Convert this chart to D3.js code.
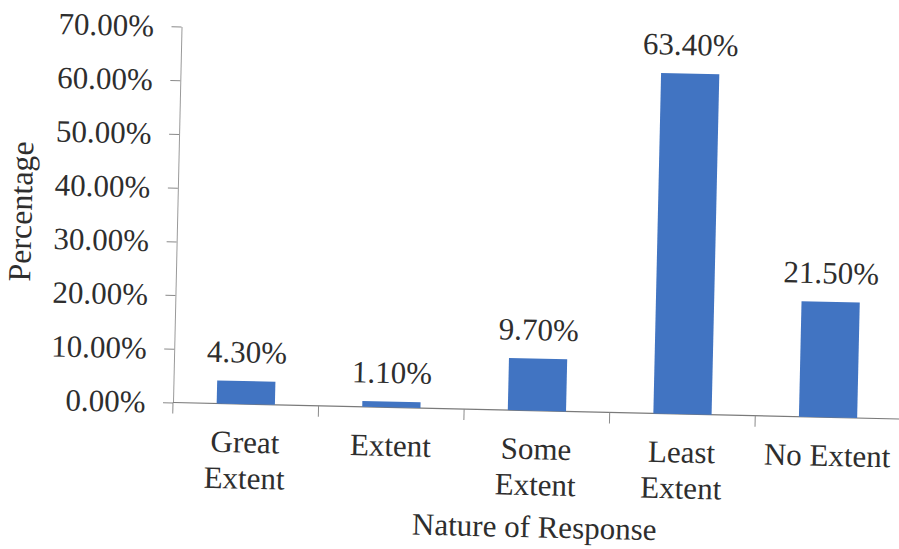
<!DOCTYPE html>
<html>
<head>
<meta charset="utf-8">
<script src="https://cdn.jsdelivr.net/npm/d3@7"></script>
<style>
  html, body { margin: 0; padding: 0; background: #ffffff; }
  svg { display: block; }
</style>
</head>
<body>
<svg id="chart" width="899" height="549"></svg>
<script>
// Responses by category (percent of respondents)
const categories = ["Great Extent", "Extent", "Some Extent", "Least Extent", "No Extent"];
const categoryLines = [["Great", "Extent"], ["Extent"], ["Some", "Extent"], ["Least", "Extent"], ["No Extent"]];
const values = [4.3, 1.1, 9.7, 63.4, 21.5];
const yTicks = [0, 10, 20, 30, 40, 50, 60, 70];
const xTitle = "Nature of Response";
const yTitle = "Percentage";

const FONT = "'Liberation Serif', 'Times New Roman', serif";
const INK = "#2e2e2e";
const W = 728, H = 376;
const svg = d3.select("#chart");

// The printed page sits slightly tilted; the plot frame is turned with it.
const g = svg.append("g")
  .attr("transform", "translate(173,402.5) rotate(1.3) translate(0," + (-H) + ")");

const x = d3.scaleBand()
  .domain(categories)
  .range([0, W])
  .paddingInner(0.6)
  .paddingOuter(0.3);

const y = d3.scaleLinear().domain([0, 70]).range([H, 0]);

const pct = d => d3.format(".2f")(d) + "%";

// Y axis
const yAxis = g.append("g")
  .attr("font-family", null)
  .attr("font-size", null)
  .call(d3.axisLeft(y).tickValues(yTicks).tickFormat(pct).tickSize(10).tickSizeOuter(0).tickPadding(17.5));
yAxis.attr("font-family", null).attr("font-size", null);
yAxis.select(".domain").attr("stroke", "#9a9a9a").attr("stroke-width", 1);
yAxis.selectAll(".tick line").attr("stroke", "#8a8a8a");
yAxis.selectAll(".tick text")
  .style("font-family", FONT)
  .style("font-size", "31px")
  .attr("fill", INK);

// Category axis: baseline plus ticks at the band boundaries
g.append("line")
  .attr("x1", 0).attr("x2", W)
  .attr("y1", y(0)).attr("y2", y(0))
  .attr("stroke", "#7a7a7a").attr("stroke-width", 1.2);

const boundaries = d3.range(categories.length + 1).map(i => i * x.step());
g.selectAll(".xtick").data(boundaries).join("line")
  .attr("class", "xtick")
  .attr("x1", d => d).attr("x2", d => d)
  .attr("y1", y(0)).attr("y2", y(0) + 11)
  .attr("stroke", "#8a8a8a").attr("stroke-width", 1);

// Bars
g.selectAll(".bar").data(values).join("rect")
  .attr("class", "bar")
  .attr("x", (d, i) => x(categories[i]))
  .attr("width", x.bandwidth())
  .attr("y", d => y(d))
  .attr("height", d => y(0) - y(d))
  .attr("fill", "#4174c2");

// Value labels
g.selectAll(".val").data(values).join("text")
  .attr("class", "val")
  .attr("x", (d, i) => x(categories[i]) + x.bandwidth() / 2)
  .attr("y", d => y(d) - 18.5)
  .attr("text-anchor", "middle")
  .attr("fill", INK)
  .style("font-family", FONT)
  .style("font-size", "31px")
  .text(d => pct(d));

// Category labels
const cat = g.selectAll(".cat").data(categoryLines).join("text")
  .attr("class", "cat")
  .attr("text-anchor", "middle")
  .attr("fill", INK)
  .style("font-family", FONT)
  .style("font-size", "31px");
cat.selectAll("tspan").data((lines, i) => lines.map(l => ({ l, i }))).join("tspan")
  .attr("x", d => x(categories[d.i]) + x.bandwidth() / 2)
  .attr("y", (d, j) => H + 48.5 + j * 36)
  .text(d => d.l);

// Axis titles
g.append("text")
  .attr("x", W / 2)
  .attr("y", H + 126.6)
  .attr("text-anchor", "middle")
  .attr("fill", INK)
  .style("font-family", FONT)
  .style("font-size", "31px")
  .text(xTitle);

g.append("text")
  .attr("transform", "translate(-145.6," + (H - 187.6) + ") rotate(-90)")
  .attr("text-anchor", "middle")
  .attr("fill", INK)
  .style("font-family", FONT)
  .style("font-size", "32px")
  .text(yTitle);
</script>
</body>
</html>
